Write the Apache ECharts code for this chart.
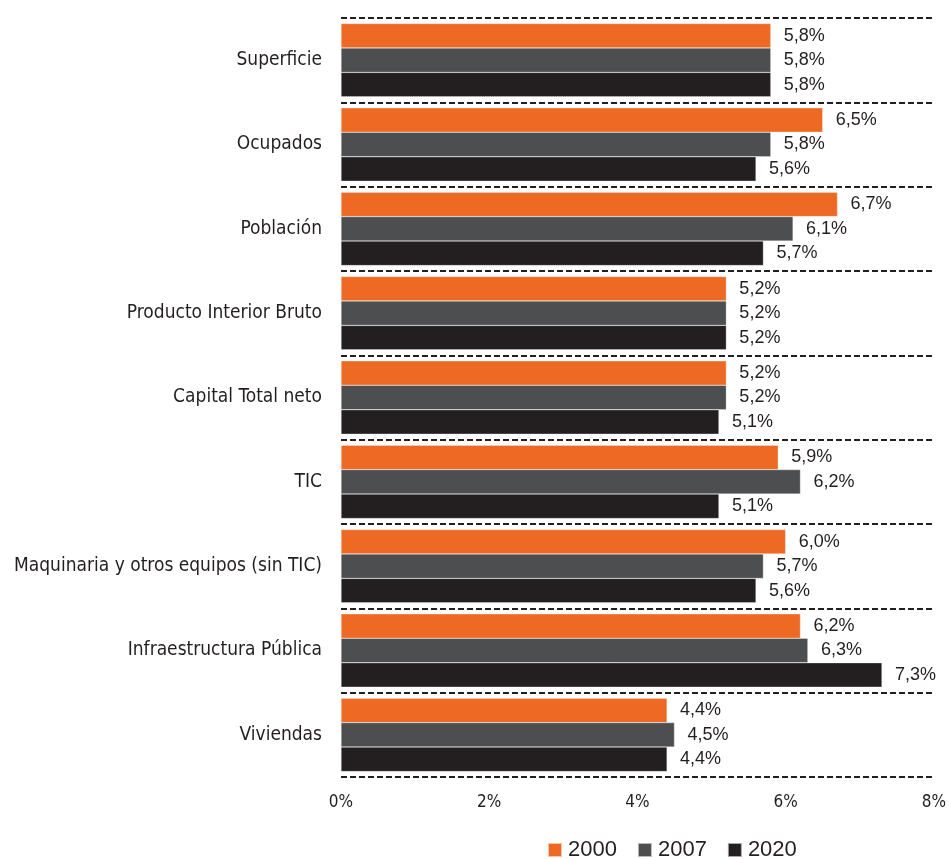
<!DOCTYPE html>
<html>
<head>
<meta charset="utf-8">
<script src="https://cdn.jsdelivr.net/npm/echarts@6/dist/echarts.min.js"></script>
<style>
  html, body { margin: 0; padding: 0; background: #ffffff; }
  #chart { width: 949px; height: 859px; }
</style>
</head>
<body>
<div id="chart"></div>
<script>
// Categories, top to bottom
const categories = [
  'Superficie',
  'Ocupados',
  'Población',
  'Producto Interior Bruto',
  'Capital Total neto',
  'TIC',
  'Maquinaria y otros equipos (sin TIC)',
  'Infraestructura Pública',
  'Viviendas'
];

// Shares (%) by year
const v2000 = [5.8, 6.5, 6.7, 5.2, 5.2, 5.9, 6.0, 6.2, 4.4];
const v2007 = [5.8, 5.8, 6.1, 5.2, 5.2, 6.2, 5.7, 6.3, 4.5];
const v2020 = [5.8, 5.6, 5.7, 5.2, 5.1, 5.1, 5.6, 7.3, 4.4];

const years = ['2000', '2007', '2020'];
const colors = ['#EE6A24', '#4D4E50', '#231F20'];
const ink = '#231F20';
const catFont = '"Liberation Sans Narrow", "DejaVu Sans Condensed", sans-serif';
const numFont = '"Liberation Sans", "DejaVu Sans", sans-serif';

const fmt = v => v.toFixed(1).replace('.', ',') + '%';

function barSeries(name, data, color) {
  return {
    name: name,
    type: 'bar',
    data: data,
    barGap: '0%',
    barCategoryGap: '13%',
    itemStyle: { color: color, borderColor: 'rgba(255,255,255,0.6)', borderWidth: 0.5 },
    label: {
      show: true,
      position: 'right',
      distance: 13,
      color: ink,
      fontFamily: numFont,
      fontSize: 18,
      formatter: p => fmt(p.value)
    }
  };
}

const chart = echarts.init(document.getElementById('chart'), null, { renderer: 'canvas' });
chart.setOption({
  animation: false,
  backgroundColor: '#ffffff',
  grid: { left: 341, right: 14, top: 18, bottom: 82, containLabel: false },
  xAxis: {
    type: 'value',
    min: 0,
    max: 8,
    interval: 2,
    axisLine: { show: false },
    axisTick: { show: false },
    splitLine: { show: false },
    axisLabel: {
      margin: 17,
      color: ink,
      fontFamily: catFont,
      fontSize: 17,
      formatter: v => v + '%'
    }
  },
  yAxis: {
    type: 'category',
    data: categories,
    inverse: true,
    axisLine: { show: false },
    axisTick: { show: false },
    axisLabel: {
      margin: 19,
      color: ink,
      fontFamily: catFont,
      fontSize: 19
    },
    splitLine: {
      show: true,
      lineStyle: { color: ink, width: 2, type: [6, 3] }
    }
  },
  legend: {
    data: years,
    left: 547,
    top: 839,
    icon: 'rect',
    itemWidth: 14,
    itemHeight: 14,
    itemGap: 20,
    padding: 0,
    textStyle: { color: ink, fontFamily: numFont, fontSize: 22, padding: [0, 0, 0, 1] }
  },
  series: [
    barSeries(years[0], v2000, colors[0]),
    barSeries(years[1], v2007, colors[1]),
    barSeries(years[2], v2020, colors[2])
  ]
});
</script>
</body>
</html>
